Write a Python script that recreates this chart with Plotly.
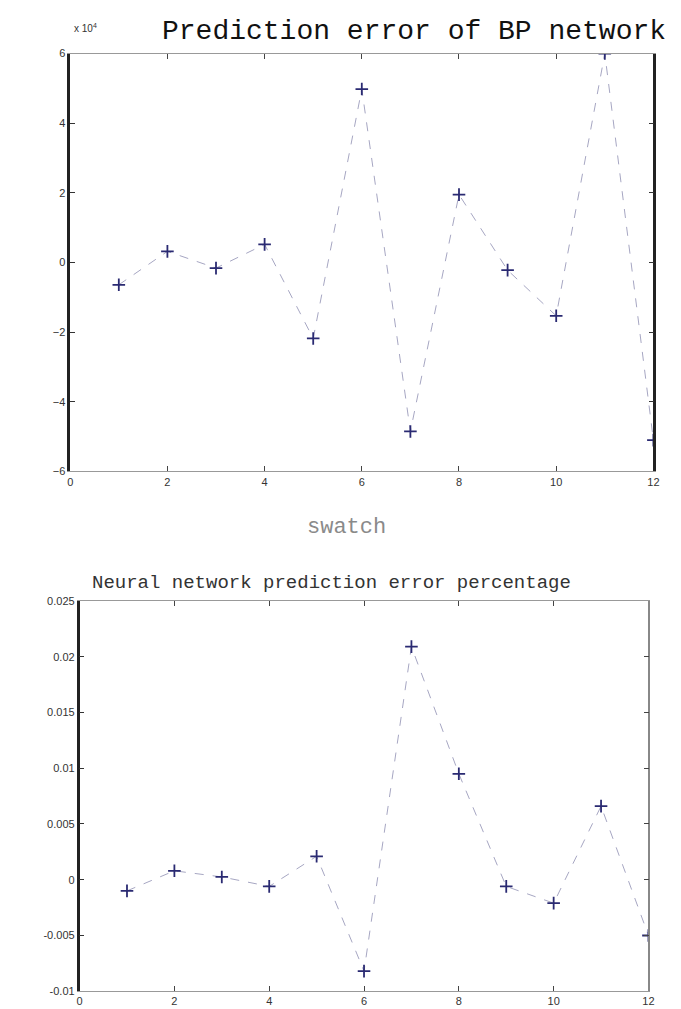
import plotly.graph_objects as go

# ---- data ----
samples = [1, 2, 3, 4, 5, 6, 7, 8, 9, 10, 11, 12]
bp_error_x1e4 = [-0.64, 0.32, -0.16, 0.52, -2.18, 4.98, -4.85, 1.95, -0.22, -1.53, 6.0, -5.1]
pct_error = [-0.001, 0.0008, 0.00025, -0.0006, 0.0021, -0.0082, 0.0209, 0.0095, -0.0006, -0.0021, 0.0066, -0.005]

x_ticks = [0, 2, 4, 6, 8, 10, 12]
top_y_ticks = [-6, -4, -2, 0, 2, 4, 6]
bot_y_ticks = [-0.01, -0.005, 0, 0.005, 0.01, 0.015, 0.02, 0.025]
bot_y_labels = ["-0.01", "-0.005", "0", "0.005", "0.01", "0.015", "0.02", "0.025"]

W, H = 681, 1009
line_style = dict(color="#a6a6c2", width=1, dash="dash")
marker_style = dict(symbol="cross-thin", size=9, line=dict(color="#2a2a72", width=1.8))

fig = go.Figure()
fig.add_trace(go.Scatter(x=samples, y=bp_error_x1e4, mode="lines+markers",
                         line=line_style, marker=marker_style,
                         xaxis="x", yaxis="y", showlegend=False))
fig.add_trace(go.Scatter(x=samples, y=pct_error, mode="lines+markers",
                         line=line_style, marker=marker_style,
                         xaxis="x2", yaxis="y2", showlegend=False))

tickfont = dict(family="Liberation Sans, Arial", size=11, color="#333")
xcommon = dict(range=[0, 12], tickvals=x_ticks, ticks="inside", ticklen=5,
               tickcolor="#444", showline=True, linecolor="#999", linewidth=1,
               mirror="ticks", showgrid=False, zeroline=False, tickfont=tickfont)
ycommon = dict(ticks="inside", ticklen=5, tickcolor="#333", showline=True,
               linecolor="#222", linewidth=2.5, showgrid=False,
               zeroline=False, tickfont=tickfont)

fig.update_layout(
    width=W, height=H,
    margin=dict(l=0, r=0, t=0, b=0),
    paper_bgcolor="white", plot_bgcolor="white",
    xaxis=dict(domain=[60 / W, 651 / W], anchor="y", **xcommon),
    yaxis=dict(domain=[1 - 463 / H, 1 - 40 / H], anchor="x", range=[-6, 6],
               tickvals=top_y_ticks, mirror="ticks", **ycommon),
    xaxis2=dict(domain=[69.5 / W, 646 / W], anchor="y2", **xcommon),
    yaxis2=dict(domain=[1 - 989 / H, 1 - 594 / H], anchor="x2", range=[-0.01, 0.025],
                tickvals=bot_y_ticks, ticktext=bot_y_labels, mirror=False, **ycommon),
    yaxis3=dict(overlaying="y2", anchor="x2", side="right", range=[-0.01, 0.025],
                tickvals=bot_y_ticks, showticklabels=False, ticks="inside", ticklen=5,
                tickcolor="#444", showline=True, linecolor="#888", linewidth=1.5,
                showgrid=False, zeroline=False),
    annotations=[
        dict(text="Prediction error of BP network", xref="paper", yref="paper",
             x=408 / W, y=1 - 18 / H, xanchor="center", yanchor="middle",
             showarrow=False, font=dict(family="Liberation Mono, Courier New", size=28, color="#111")),
        dict(text="x 10<sup>4</sup>", xref="paper", yref="paper",
             x=62 / W, y=1 - 14 / H, xanchor="left", yanchor="middle",
             showarrow=False, font=dict(family="Liberation Sans, Arial", size=10, color="#333")),
        dict(text="swatch", xref="paper", yref="paper",
             x=340 / W, y=1 - 520 / H, xanchor="center", yanchor="middle",
             showarrow=False, font=dict(family="Liberation Mono, Courier New", size=22, color="#8a8a8a")),
        dict(text="Neural network prediction error percentage", xref="paper", yref="paper",
             x=325 / W, y=1 - 576 / H, xanchor="center", yanchor="middle",
             showarrow=False, font=dict(family="Liberation Mono, Courier New", size=19, color="#333")),
    ],
)
fig.add_trace(go.Scatter(x=[None], y=[None], xaxis="x2", yaxis="y3", showlegend=False,
                         hoverinfo="skip"))

fig.write_html("out.html")
